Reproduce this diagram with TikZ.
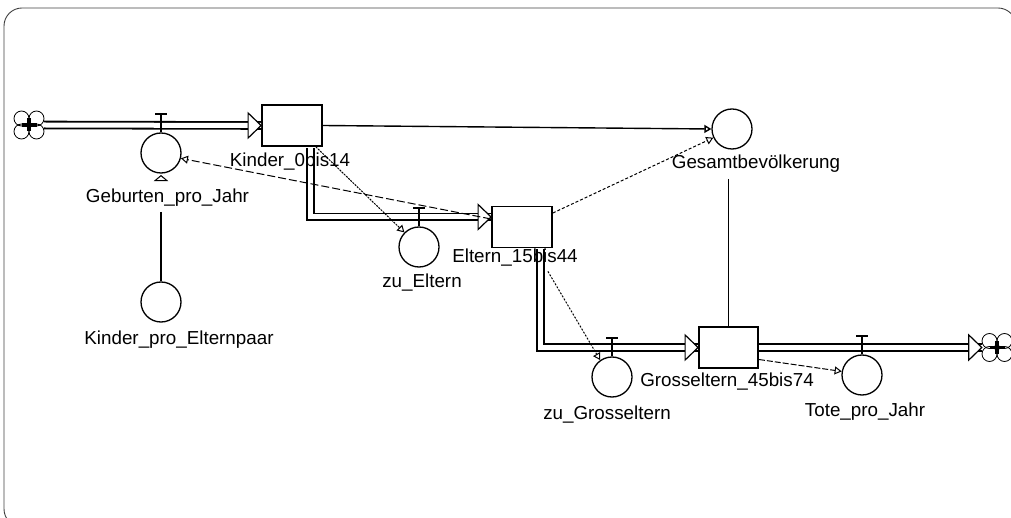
\documentclass[tikz,border=0pt]{standalone}
\usepackage{fontspec}
\setmainfont{Liberation Sans}
\usetikzlibrary{positioning,calc,arrows.meta}

\tikzset{
  pics/cloud/.style={code={
    \foreach \dx/\dy in {-7.5/-6.5,7.5/-6.5,-7.5/6.5,7.5/6.5}
      \draw[line width=0.8pt] (\dx,\dy) circle (7.5pt);
    \draw[line width=3.4pt] (-7.5,0) -- (7.5,0) (0,-6.5) -- (0,6.5);
  }},
  pics/inlet/.style={code={
    \draw[line width=1.2pt, fill=white] (0,0) -- (-13,-12.5) -- (-13,12.5) -- cycle;
  }}
}

\begin{document}
\begin{tikzpicture}[%
       x=1pt, y=-1pt,
       >={Triangle[open,length=7pt,width=8pt]},
       on grid,
       font=\fontsize{18.8}{22}\selectfont,
       stock/.style={draw, line width=1.8pt, minimum width=60pt, minimum height=41pt, inner sep=0pt},
       aux/.style={draw, circle, line width=1.3pt, minimum size=40pt, inner sep=0pt},
       src/.style={minimum width=30pt, minimum height=28pt, inner sep=0pt},
       lbl/.style={inner sep=0pt, text height=13.5pt, text depth=4pt},
       pipe/.style={double, double distance=5pt, line width=1.8pt},
       link/.style={->, line width=1pt}
     ]
     \useasboundingbox (0,0) rectangle (1011,518);
     \draw[rounded corners=18pt, line width=0.9pt, black!75] (4,8) rectangle (1016,527);

     % Bestaende
     \node[stock]                    (kinder) at (292,125.5)  {};
     \node[stock]                    (eltern) at (522,227)    {};
     \node[stock, minimum width=59pt] (gross) at (728.5,347.5) {};

     % Quelle und Senke
     \node[src] (srcL)  at (29,125)    {};
     \node[src] (sinkR) at (997,347.5) {};

     % Fluesse und Hilfsgroessen
     \node[aux] (geb)      at (161,153) {};
     \node[aux] (zuEltern) at (419,247) {};
     \node[aux] (zuGross)  at (612,377) {};
     \node[aux] (tote)     at (862,375) {};
     \node[aux] (gesamt)   at (732,129) {};
     \node[aux] (kpe)      [below=149pt of geb] {};

     % Rohre
     \draw[pipe] (srcL.east) -- (kinder.west);
     \draw[pipe] ($(kinder.south east)+(-12.5,1)$) |- ($(eltern.west)+(0,-10)$);
     \draw[pipe] ($(eltern.south east)+(-12.5,1)$) |- (gross.west);
     \draw[pipe] (gross.east) -- (sinkR.west);

     \pic at (srcL)  {cloud};
     \pic at (sinkR) {cloud};
     \pic at (kinder.west) {inlet};
     \pic at ($(eltern.west)+(0,-10)$) {inlet};
     \pic at (gross.west) {inlet};
     \pic at (sinkR.west) {inlet};

     % Ventile
     \foreach \v in {geb,zuEltern,zuGross,tote}
       \draw[line width=1.8pt] (\v.north) -- ++(0,-18) ++(-6,0) -- ++(12,0);
     \draw[line width=1pt] ($(geb.south)+(0,2)$) -- ++(-6,5) -- ++(12,0) -- cycle;

     % Beschriftungen
     \node[lbl] (gebLbl)      [below right=45pt and 6.5pt of geb]    {Geburten\_pro\_Jahr};
     \node[lbl] (kinderLbl)   [below left=36.5pt and 2pt of kinder]  {Kinder\_0bis14};
     \node[lbl] (gesamtLbl)   [below right=35pt and 24pt of gesamt]  {Gesamtbevölkerung};
     \node[lbl] (zuElternLbl) [below right=36pt and 3pt of zuEltern] {zu\_Eltern};
     \node[lbl] (elternLbl)   [below left=31pt and 7pt of eltern]    {Eltern\_15bis44};
     \node[lbl] (zuGrossLbl)  [below left=38pt and 5pt of zuGross]   {zu\_Grosseltern};
     \node[lbl] (grossLbl)    [below left=34.5pt and 1.5pt of gross] {Grosseltern\_45bis74};
     \node[lbl] (toteLbl)     [below right=37pt and 3pt of tote]     {Tote\_pro\_Jahr};
     \node[lbl] (kpeLbl)      [below right=38pt and 18pt of kpe]     {Kinder\_pro\_Elternpaar};

     % Wirkungen
     \path[link] (kinder.east) edge[line width=1.4pt] (gesamt.west);
     \path[link] ($(eltern.east)+(0,-14)$) edge[dash pattern=on 3pt off 2pt] (gesamt.205);
     \path[link] ($(eltern.west)+(0,-8)$) edge[dash pattern=on 8pt off 3pt] (geb.-15);
     \path[link] ([xshift=-7pt]kinder.south east) edge[dash pattern=on 2pt off 1pt] (zuEltern.north west);
     \path[link] ($(eltern.south east)+(-5,23)$) edge[dash pattern=on 2pt off 1.5pt] (zuGross.125);
     \path[link] ($(gross.east)+(0,12)$) edge[dash pattern=on 6pt off 2pt] (tote.170);
     \draw[line width=1.4pt, shorten <=6pt] (gesamtLbl.south -| gross.north) -- (gross.north);
     \draw[line width=1.4pt, shorten <=5pt] (gebLbl.south -| kpe.north) -- (kpe.north);
\end{tikzpicture}
\end{document}
